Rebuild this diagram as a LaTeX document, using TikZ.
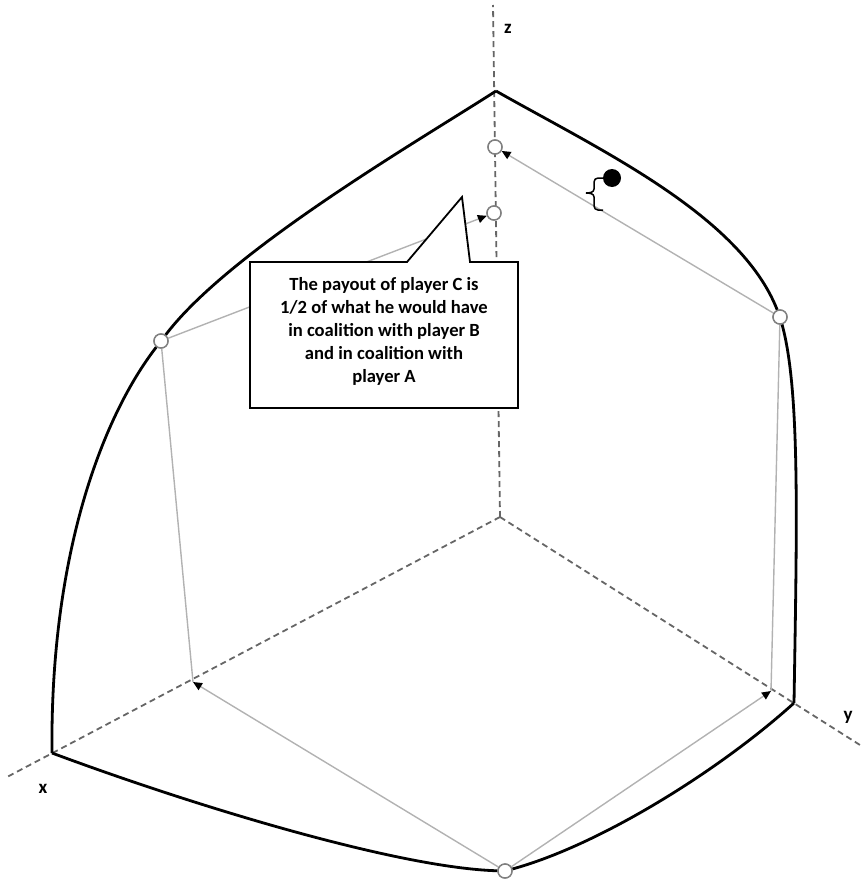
\documentclass[tikz,border=0pt]{standalone}
\usepackage{fontspec}
\setmainfont{Carlito}
\usetikzlibrary{arrows.meta}
\begin{document}
\begin{tikzpicture}[x=1pt,y=-1pt,
  axis/.style={draw=black!60,line width=1.8pt,dash pattern=on 6pt off 4pt},
  outer/.style={draw=black,line width=2.8pt},
  thin/.style={draw=black!30,line width=1.4pt},
  arr/.style={thin,-{Triangle[length=9pt,width=8pt,color=black]}},
  circ/.style={circle,draw=black!50,fill=white,line width=1.4pt,minimum size=14pt,inner sep=0pt},
  lab/.style={font=\bfseries\fontsize{19}{21}\selectfont},
  callout/.style={draw=black,fill=white,line width=1.8pt,line join=miter}]
\useasboundingbox (0,0) rectangle (860,883);
% axes
\coordinate (O) at (500,517);
\coordinate (zend) at (493,5);
\coordinate (xend) at (7,777);
\coordinate (yend) at (860,745);
\draw[axis] (O) -- (zend);
\draw[axis] (O) -- (xend);
\draw[axis] (O) -- (yend);
\node[lab] (zl) at (508,29) {z};
\node[lab] (xl) at (43,789) {x};
\node[lab] (yl) at (848,717) {y};
% vertices
\coordinate (Z) at (496,91);
\coordinate (X) at (52,753);
\coordinate (Y) at (794,703);
\coordinate (Xp) at (193,682);
\coordinate (Yp) at (771,691);
% circles
\node[circ] (tc) at (495,147) {};
\node[circ] (sc) at (494,213) {};
\node[circ] (lc) at (161,341) {};
\node[circ] (rc) at (780,317) {};
\node[circ] (bc) at (505,871) {};
% thin gray lines
\draw[thin] (lc) -- (Xp);
\draw[thin] (rc) -- (Yp);
\draw[arr] (bc) -- (Xp);
\draw[arr] (bc) -- (Yp);
\draw[arr] (rc) -- (tc);
\draw[arr] (lc) -- (sc);
% outer curves
\draw[outer] (Z) .. controls (420,140) and (230,250) .. (lc);
\draw[outer] (lc) .. controls (100,420) and (50,560) .. (X);
\draw[outer] (Z) .. controls (600,150) and (740,215) .. (rc);
\draw[outer] (rc) .. controls (800,390) and (797,520) .. (Y);
\draw[outer] (X) .. controls (200,808) and (400,868) .. (bc);
\draw[outer] (bc) .. controls (600,845) and (720,770) .. (Y);
% redraw circles on top
\node[circ] at (lc) {};
\node[circ] at (rc) {};
\node[circ] at (bc) {};
\node[circ] at (tc) {};
\node[circ] at (sc) {};
% dot and brace
\node[circle,fill=black,minimum size=18pt,inner sep=0pt] (dot) at (612,178) {};
\draw[line width=1.5pt] (dot.west) -- (598,178) to[out=180,in=90] (594,182) -- (594,189)
  to[out=-90,in=0] (586,193) to[out=0,in=90] (594,197) -- (594,206) to[out=-90,in=180] (598,210) -- (603,210);
% callout
\draw[callout] (250,262) -- (407,262) -- (462,197) -- (470,262) -- (518,262) -- (518,408) -- (250,408) -- cycle;
\node[align=center,font=\bfseries\fontsize{18.6}{23}\selectfont] (txt) at (384,331)
  {The payout of player C is\\1/2 of what he would have\\in coalition with player B\\and in coalition with\\player A};
\end{tikzpicture}
\end{document}
